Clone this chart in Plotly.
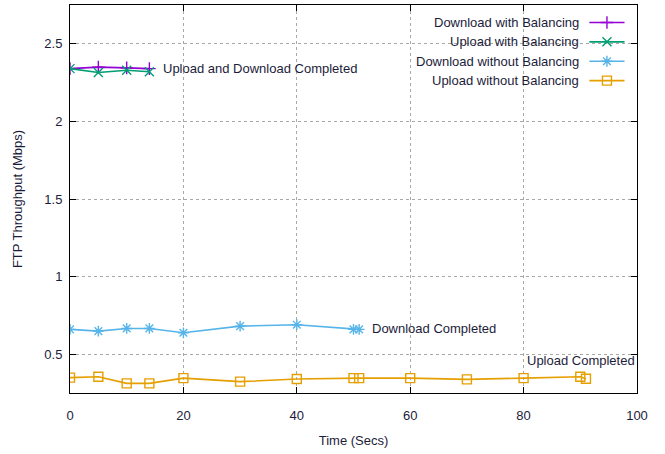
import plotly.graph_objects as go

# FTP throughput measurements (Mbps) over time (seconds)
t_bal = [0, 5, 10, 14]
download_bal = [2.34, 2.35, 2.345, 2.34]
upload_bal = [2.34, 2.315, 2.33, 2.32]

t_dl_nobal = [0, 5, 10, 14, 20, 30, 40, 50, 51]
download_nobal = [0.66, 0.649, 0.666, 0.666, 0.638, 0.681, 0.690, 0.660, 0.660]

t_ul_nobal = [0, 5, 10, 14, 20, 30, 40, 50, 51, 60, 70, 80, 90, 91]
upload_nobal = [0.349, 0.355, 0.312, 0.312, 0.346, 0.323, 0.340, 0.346, 0.346,
                0.346, 0.338, 0.346, 0.355, 0.342]

series_names = ["Download with Balancing", "Upload with Balancing",
                "Download without Balancing", "Upload without Balancing"]
series_colors = ["#9400d3", "#009e73", "#56b4e9", "#e69f00"]
series_symbols = ["cross-thin-open", "x-thin-open", "asterisk-open", "square-open"]

notes = [
    ("Upload and Download Completed", 16.0, 2.34),
    ("Download Completed", 52.9, 0.665),
    ("Upload Completed", 80.2, 0.46),
]

FONT = "Liberation Sans"
TEXT = "#1c1c3a"

fig = go.Figure()

data = [(t_bal, download_bal), (t_bal, upload_bal),
        (t_dl_nobal, download_nobal), (t_ul_nobal, upload_nobal)]

for (xs, ys), name, col, sym in zip(data, series_names, series_colors, series_symbols):
    fig.add_trace(go.Scatter(
        x=xs, y=ys, mode="lines+markers", name=name,
        line=dict(color=col, width=1.6),
        marker=dict(symbol=sym, size=9, color=col, line=dict(color=col, width=1.4)),
        showlegend=False,
    ))

# gnuplot-style key: text right-aligned, sample line to its right
key_y = [0.955, 0.905, 0.855, 0.805]
for name, col, sym, ky in zip(series_names, series_colors, series_symbols, key_y):
    fig.add_trace(go.Scatter(
        x=[0.916, 0.978], y=[ky, ky], xaxis="x2", yaxis="y2",
        mode="lines", line=dict(color=col, width=1.6),
        showlegend=False, hoverinfo="skip",
    ))
    fig.add_trace(go.Scatter(
        x=[0.947], y=[ky], xaxis="x2", yaxis="y2",
        mode="markers",
        marker=dict(symbol=sym, size=9, color=col, line=dict(color=col, width=1.4)),
        showlegend=False, hoverinfo="skip",
    ))
    fig.add_annotation(
        x=0.902, y=ky, xref="x2", yref="y2", text=name, showarrow=False,
        xanchor="right", yanchor="middle",
        font=dict(family=FONT, size=13, color=TEXT),
    )

for text, x, y in notes:
    fig.add_annotation(
        x=x, y=y, xref="x", yref="y", text=text, showarrow=False,
        xanchor="left", yanchor="middle",
        font=dict(family=FONT, size=13, color=TEXT),
    )

axis_common = dict(
    showline=True, linecolor="black", linewidth=1, mirror="ticks",
    ticks="inside", ticklen=6, tickcolor="black",
    showgrid=True, gridcolor="#a8a8a8", griddash="dot", gridwidth=1,
    zeroline=False,
    tickfont=dict(family=FONT, size=13, color=TEXT),
)

fig.update_layout(
    width=665, height=454,
    margin=dict(l=70, r=28, t=5, b=61),
    paper_bgcolor="white", plot_bgcolor="white",
    xaxis=dict(
        range=[0, 100], tickvals=[0, 20, 40, 60, 80, 100],
        ticklabelstandoff=10,
        title=dict(text="Time (Secs)", standoff=14,
                   font=dict(family=FONT, size=13, color=TEXT)),
        **axis_common,
    ),
    yaxis=dict(
        range=[0.25, 2.75], tickvals=[0.5, 1, 1.5, 2, 2.5],
        ticktext=["0.5", "1", "1.5", "2", "2.5"],
        ticklabelstandoff=4,
        title=dict(text="FTP Throughput (Mbps)", standoff=18,
                   font=dict(family=FONT, size=13, color=TEXT)),
        **axis_common,
    ),
    xaxis2=dict(range=[0, 1], overlaying="x", visible=False, fixedrange=True),
    yaxis2=dict(range=[0, 1], overlaying="y", visible=False, fixedrange=True),
)

fig.write_html("out.html")
